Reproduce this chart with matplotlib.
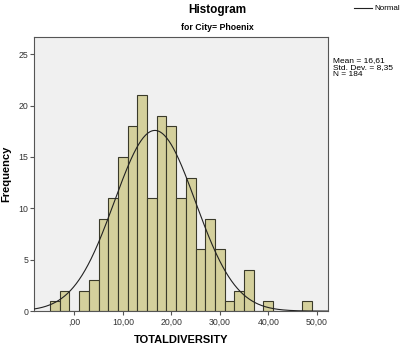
import numpy as np
import matplotlib
matplotlib.use("Agg")
import matplotlib.pyplot as plt
from matplotlib.ticker import FixedLocator, FuncFormatter

plt.rcParams['font.family'] = ['Liberation Sans', 'DejaVu Sans']

# Data
bin_centers = [-4, -2, 0, 2, 4, 6, 8, 10, 12, 14, 16, 18, 20, 22, 24,
               26, 28, 30, 32, 34, 36, 38, 40, 42, 44, 46, 48]
counts = [1, 2, 0, 2, 3, 9, 11, 15, 18, 21, 11, 19, 18, 11, 13,
          6, 9, 6, 1, 2, 4, 0, 1, 0, 0, 0, 1]
bin_width = 2.0
mean_val = 16.61
std_val = 8.35
n_val = 184
x_ticks = [0, 10, 20, 30, 40, 50]
y_ticks = [0, 5, 10, 15, 20, 25]

fig = plt.figure(figsize=(4.01, 3.48), dpi=100)
ax = fig.add_axes([0.0855, 0.106, 0.818 - 0.0855, 0.893 - 0.106])
ax.set_facecolor('#F0F0F0')

ax.bar(bin_centers, counts, width=bin_width, color='#D4D09C',
       edgecolor='#3A3A2A', linewidth=0.8, zorder=2)

xs = np.linspace(-8.25, 52.3, 400)
ys = n_val * bin_width / (std_val * np.sqrt(2 * np.pi)) * np.exp(-0.5 * ((xs - mean_val) / std_val) ** 2)
ax.plot(xs, ys, color='#222222', linewidth=0.8, zorder=3)

ax.set_xlim(-8.25, 52.3)
ax.set_ylim(0, 26.65)
ax.xaxis.set_major_locator(FixedLocator(x_ticks))
ax.yaxis.set_major_locator(FixedLocator(y_ticks))

def fmt_x(v, pos):
    s = f"{v:.2f}".replace('.', ',')
    if s.startswith('0,'):
        s = s[1:]
    return s

ax.xaxis.set_major_formatter(FuncFormatter(fmt_x))
ax.yaxis.set_major_formatter(FuncFormatter(lambda v, p: f"{int(v)}"))
ax.tick_params(axis='both', direction='out', length=3, width=0.8,
               labelsize=6.3, colors='#555555', pad=1.5)
ax.tick_params(axis='both', labelcolor='#333333')
for s in ax.spines.values():
    s.set_color('#555555')
    s.set_linewidth(0.8)

ax.set_xlabel('TOTALDIVERSITY', fontsize=8, fontweight='bold')
ax.xaxis.set_label_coords((181 - 34.3) / (328 - 34.3), -(335 - 311) / (311 - 37.3))
ax.set_ylabel('Frequency', fontsize=8, fontweight='bold')
ax.yaxis.set_label_coords(-(34.3 - 11) / (328 - 34.3), 0.5)

fig.text(217 / 401, 1 - 10 / 348, 'Histogram', ha='center', va='center',
         fontsize=8.5, fontweight='bold')
fig.text(217 / 401, 1 - 28 / 348, 'for City= Phoenix', ha='center', va='center',
         fontsize=6.3, fontweight='bold')

# Legend "Normal"
fig.add_artist(plt.Line2D([354 / 401, 372 / 401], [1 - 8 / 348, 1 - 8 / 348],
                          color='#222222', linewidth=0.8))
fig.text(374 / 401, 1 - 8 / 348, 'Normal', ha='left', va='center', fontsize=5.8)

stats = f"Mean = {mean_val:.2f}\nStd. Dev. = {std_val:.2f}\nN = {n_val}".replace('.', ',')
stats = stats.replace('Std, Dev,', 'Std. Dev.')
fig.text(333 / 401, 1 - 57 / 348, stats, ha='left', va='top', fontsize=6,
         linespacing=1.05)

fig.savefig('out.png', dpi=100)
